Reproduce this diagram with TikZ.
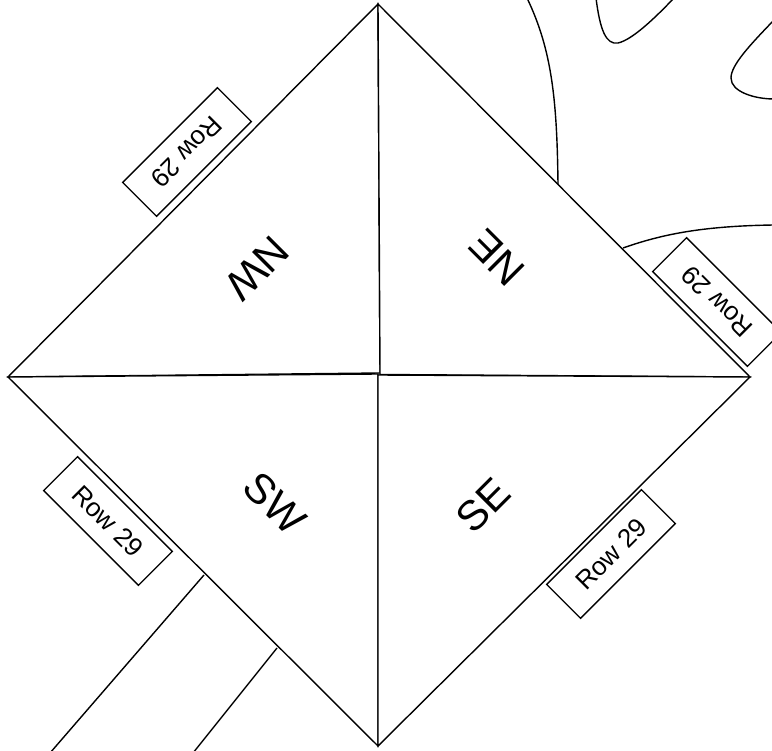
\documentclass[tikz,border=0pt]{standalone}
\usepackage{fontspec}
\setmainfont{Liberation Sans}
\usetikzlibrary{calc}
\tikzset{
  quarter/.style={draw=black, fill=white, line width=1.4pt, line join=miter},
  street/.style={draw=black, line width=1.4pt},
  rowtag/.style={draw=black, fill=white, line width=1.4pt,
    minimum width=134pt, minimum height=48pt, inner sep=0pt,
    font=\fontsize{26}{28}\selectfont},
  quadlabel/.style={font=\fontsize{42}{44}\selectfont, inner sep=0pt}
}

\begin{document}
\begin{tikzpicture}[x=1pt,y=-1pt]
\useasboundingbox (0,0) rectangle (772,751);
\clip (0,0) rectangle (772,751);

% ---------------------------------------------------------------------------
% Surrounding streets (behind the plot)
% ---------------------------------------------------------------------------
\draw[street] (527,-2) .. controls (552,50) and (557,100) .. (558,184);
\draw[street] (596,-2) .. controls (600,30) and (606,45) .. (618,43)
  .. controls (632,40) and (655,18) .. (674,-2);
\draw[street] (774,20) .. controls (750,45) and (731,65) .. (731,78)
  .. controls (731,92) and (755,99) .. (774,99);
\draw[street] (623,248) .. controls (660,235) and (700,226) .. (774,225);
\draw[street] (204,575) -- (50,753);
\draw[street] (277,648) -- (193,753);

% ---------------------------------------------------------------------------
% The plot: four quarters
% ---------------------------------------------------------------------------
\coordinate (top) at (378,4);
\coordinate (left) at (8,377);
\coordinate (right) at (750,377);
\coordinate (bottom) at (378,746);

\draw[quarter] (left) -- (top) -- (380,373) -- cycle;
\draw[quarter] (top) -- (right) -- (380,374.5) -- cycle;
\draw[quarter] (left) -- (378,374) -- (bottom) -- cycle;
\draw[quarter] (378,375) -- (right) -- (bottom) -- cycle;

\node[quadlabel, rotate=225] (nw) at (257,268) {NW};
\node[quadlabel, rotate=135] (ne) at (497,258) {NE};
\node[quadlabel, rotate=-45] (sw) at (275,503) {SW};
\node[quadlabel, rotate=45] (se) at (483,505) {SE};

% Row tags along the edges
\node[rowtag, rotate=225] (tagNW) at (187,152) {Row 29};
\node[rowtag, rotate=135] (tagNE) at (717,302) {Row 29};
\node[rowtag, rotate=-45] (tagSW) at (108,521) {Row 29};
\node[rowtag, rotate=45] (tagSE) at (611,554) {Row 29};

\end{tikzpicture}
\end{document}
